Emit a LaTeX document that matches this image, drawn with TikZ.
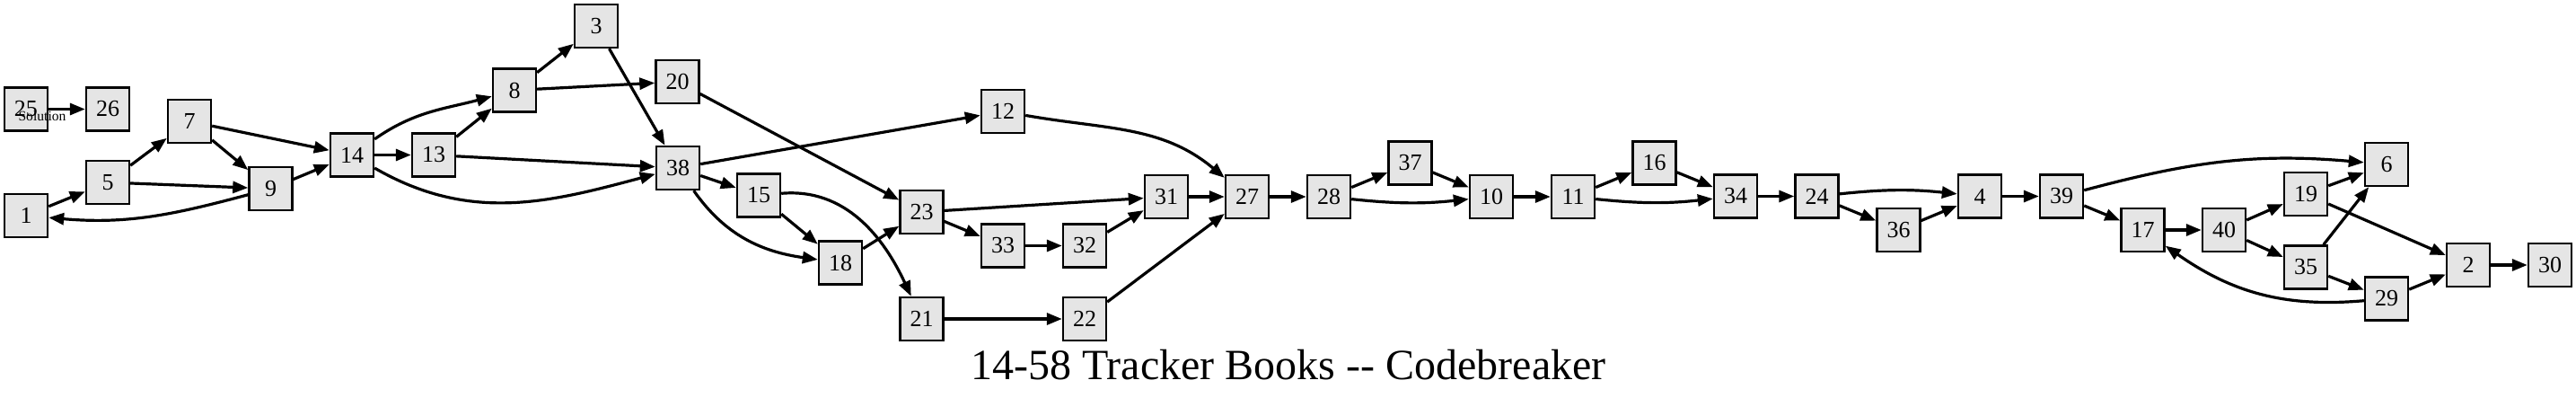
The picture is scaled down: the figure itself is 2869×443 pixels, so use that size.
\documentclass[tikz,border=0pt]{standalone}
\usepackage{fontspec}
\setmainfont{Liberation Serif}
\usetikzlibrary{arrows.meta}
\definecolor{BoxGray}{HTML}{E5E5E5}

\begin{document}
\begin{tikzpicture} [
		x=0.5pt, y=-0.5pt,
		every node/.style={align=center,rectangle},
		sec/.style={draw,line width=1.2pt,fill=BoxGray,minimum size=24pt,inner sep=0pt,font=\fontsize{13}{13}\selectfont},
		link/.style={draw,line width=1.6pt,-{Triangle[length=8.5pt,width=6.5pt]}}
	]
	\useasboundingbox (0,0) rectangle (2869,443);

	% sections
	\node [sec] (s25) at (29,121.5) {25};
	\node [sec] (s26) at (120,121.5) {26};
	\node [sec] (s1) at (29,240) {1};
	\node [sec] (s5) at (120,203) {5};
	\node [sec] (s7) at (211,135) {7};
	\node [sec] (s9) at (301.5,210) {9};
	\node [sec] (s14) at (392,172.5) {14};
	\node [sec] (s13) at (483,172.5) {13};
	\node [sec] (s8) at (573,100.5) {8};
	\node [sec] (s3) at (664,29) {3};
	\node [sec] (s20) at (754.5,91) {20};
	\node [sec] (s38) at (755,187) {38};
	\node [sec] (s15) at (845,217.5) {15};
	\node [sec] (s18) at (936,292.5) {18};
	\node [sec] (s12) at (1117,124) {12};
	\node [sec] (s23) at (1026.5,236) {23};
	\node [sec] (s33) at (1117,273.5) {33};
	\node [sec] (s32) at (1208,273.5) {32};
	\node [sec] (s31) at (1299,219) {31};
	\node [sec] (s21) at (1026.5,355) {21};
	\node [sec] (s22) at (1208,355) {22};
	\node [sec] (s27) at (1389,219) {27};
	\node [sec] (s28) at (1480,219) {28};
	\node [sec] (s37) at (1570.5,181.5) {37};
	\node [sec] (s10) at (1661,219) {10};
	\node [sec] (s11) at (1752,219) {11};
	\node [sec] (s16) at (1842.5,181.5) {16};
	\node [sec] (s34) at (1933,218.5) {34};
	\node [sec] (s24) at (2023.5,218.5) {24};
	\node [sec] (s36) at (2114.5,256) {36};
	\node [sec] (s4) at (2205,218.5) {4};
	\node [sec] (s39) at (2296,218.5) {39};
	\node [sec] (s17) at (2386.5,256) {17};
	\node [sec] (s40) at (2477,256) {40};
	\node [sec] (s19) at (2568,216) {19};
	\node [sec] (s35) at (2568,297.5) {35};
	\node [sec] (s6) at (2658,183) {6};
	\node [sec] (s2) at (2749,295) {2};
	\node [sec] (s29) at (2658,332.5) {29};
	\node [sec] (s30) at (2840,295) {30};

	\node [font=\fontsize{7.8}{8}\selectfont, anchor=base] (sol) at (47,135) {Solution};
	\node [font=\fontsize{24}{24}\selectfont, anchor=base] (title) at (1435,422) {14-58 Tracker Books -\kern0pt- Codebreaker};

	% choices
	\path[link] (s25) -- (s26);
	\path[link] (s1) -- (s5);
	\path[link] (s5) -- (s7);
	\path[link] (s5) -- (s9);
	\path[link] (s7) -- (s9);
	\path[link] (s7) -- (s14);
	\path[link] (s9) -- (s14);
	\path[link] (s9) to[out=195,in=-5] (s1);
	\path[link] (s14) -- (s13);
	\path[link] (s14) to[out=35,in=195] (s8);
	\path[link] (s14) to[out=-30,in=195] (s38);
	\path[link] (s13) -- (s8);
	\path[link] (s13) -- (s38);
	\path[link] (s8) -- (s3);
	\path[link] (s8) -- (s20);
	\path[link] (s3) -- (s38);
	\path[link] (s20) -- (s23);
	\path[link] (s38) -- (s12);
	\path[link] (s38) -- (s15);
	\path[link] (s38) to[out=-55,in=172] (s18);
	\path[link] (s15) -- (s18);
	\path[link] (s15) to[out=5,in=115] (s21);
	\path[link] (s18) -- (s23);
	\path[link] (s23) -- (s31);
	\path[link] (s23) -- (s33);
	\path[link] (s33) -- (s32);
	\path[link] (s32) -- (s31);
	\path[link] (s31) -- (s27);
	\path[link] (s12) to[out=-10,in=140] (s27);
	\path[link] (s21) -- (s22);
	\path[link] (s22) -- (s27);
	\path[link] (s27) -- (s28);
	\path[link] (s28) -- (s37);
	\path[link] (s28) to[bend right=6] (s10);
	\path[link] (s37) -- (s10);
	\path[link] (s10) -- (s11);
	\path[link] (s11) -- (s16);
	\path[link] (s11) to[bend right=6] (s34);
	\path[link] (s16) -- (s34);
	\path[link] (s34) -- (s24);
	\path[link] (s24) to[bend left=6] (s4);
	\path[link] (s24) -- (s36);
	\path[link] (s36) -- (s4);
	\path[link] (s4) -- (s39);
	\path[link] (s39) to[out=15,in=175] (s6);
	\path[link] (s39) -- (s17);
	\path[link] (s17) -- (s40);
	\path[link] (s40) -- (s19);
	\path[link] (s40) -- (s35);
	\path[link] (s19) -- (s6);
	\path[link] (s19) -- (s2);
	\path[link] (s35) -- (s6);
	\path[link] (s35) -- (s29);
	\path[link] (s29) -- (s2);
	\path[link] (s29) to[out=185,in=-35] (s17);
	\path[link] (s2) -- (s30);
\end{tikzpicture}
\end{document}
